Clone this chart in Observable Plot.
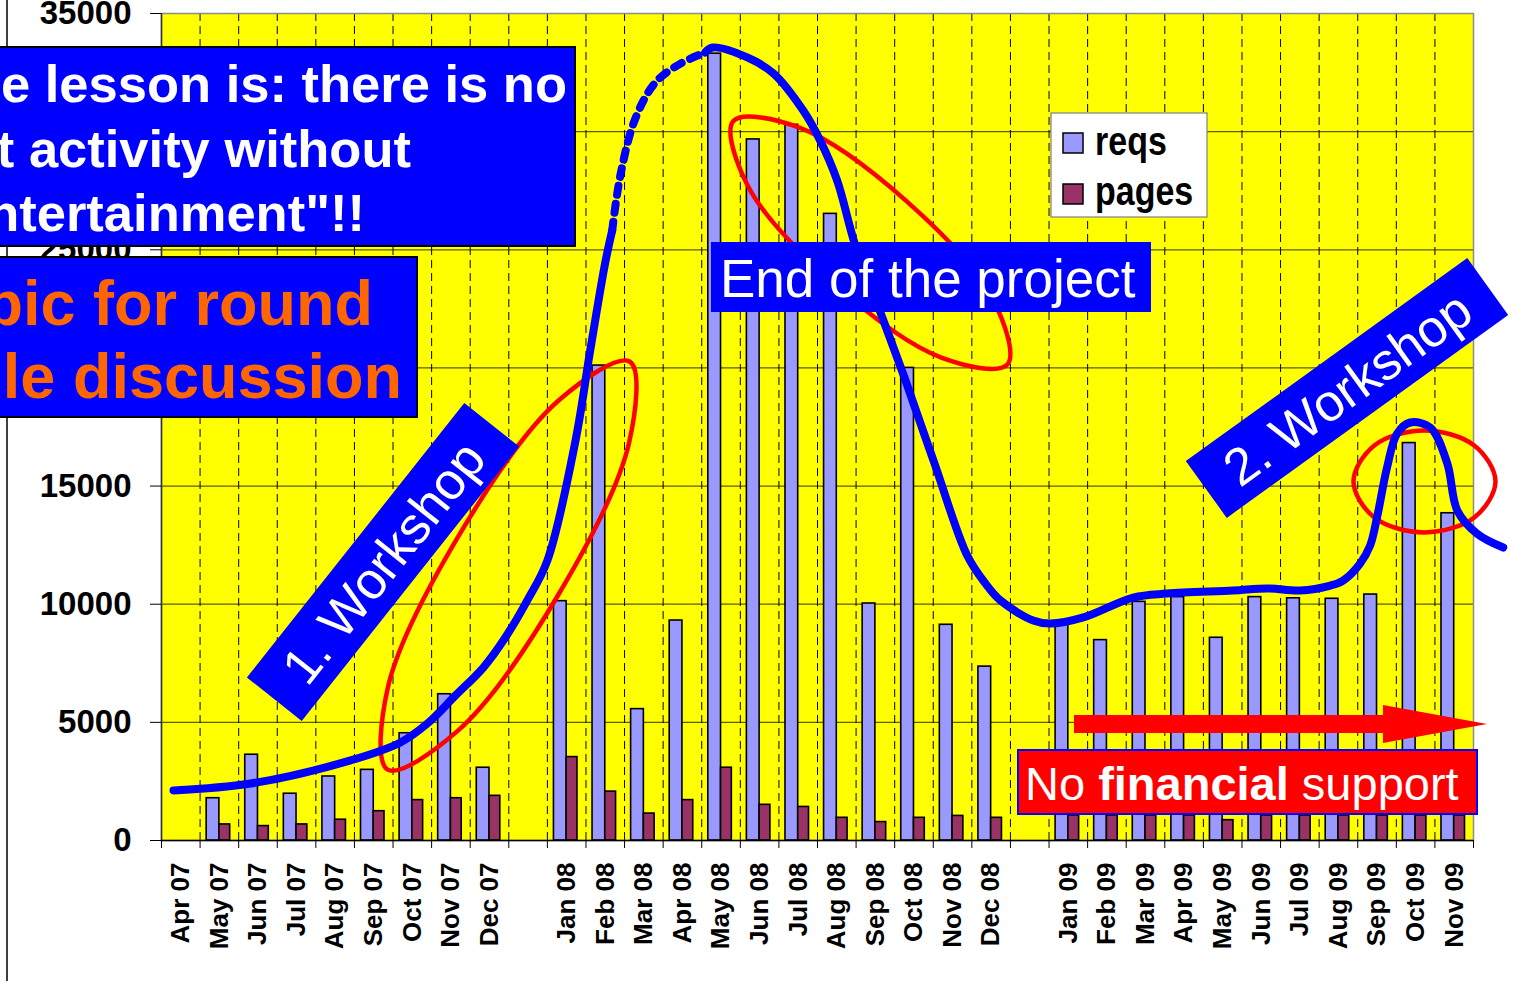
<!DOCTYPE html>
<html><head><meta charset="utf-8">
<script src="https://cdn.jsdelivr.net/npm/d3@7"></script>
<script src="https://cdn.jsdelivr.net/npm/@observablehq/plot@0.6"></script>
<style>
html,body{margin:0;padding:0;background:#fff;}
#chart{position:relative;width:1514px;height:981px;overflow:hidden;}
</style></head><body><div id="chart"></div>
<script>
// ---- data ----
const months = ["Apr 07","May 07","Jun 07","Jul 07","Aug 07","Sep 07","Oct 07","Nov 07","Dec 07","",
  "Jan 08","Feb 08","Mar 08","Apr 08","May 08","Jun 08","Jul 08","Aug 08","Sep 08","Oct 08","Nov 08","Dec 08","",
  "Jan 09","Feb 09","Mar 09","Apr 09","May 09","Jun 09","Jul 09","Aug 09","Sep 09","Oct 09","Nov 09"];
const reqs = [null,1790,3630,1980,2710,2990,4540,6190,3080,null,
  10130,20100,5560,9310,33300,29670,30290,26520,10030,20000,9130,7360,null,
  9130,8480,10100,10300,8580,10300,10250,10230,10410,16820,13850];
const pages = [null,680,610,680,880,1240,1710,1790,1890,null,
  3530,2070,1140,1710,3080,1510,1420,960,780,960,1040,960,null,
  1060,1060,1060,1060,860,1060,1060,1060,1060,1060,1060];
const yTicks = [0,5000,10000,15000,20000,25000,30000,35000];
const legendLabels = ["reqs","pages"];

// hand-drawn trend curve (slot position, value)
const trendSolidA = [[0.31,2120],[2.31,2410],[4.90,3390],[6.19,4150],[6.89,4950],[7.62,6140],[8.34,7320],
  [8.91,8590],[9.48,10160],[10.0,11850],[10.73,16930],[11.11,20740],[11.50,24460],[11.68,25820]];
const trendDotted = [[11.68,25820],[11.89,28140],[12.28,30560],[12.80,32080],[13.45,32880],[14.09,33350]];
const trendSolidB = [[14.09,33350],[14.28,33560],[15.18,33140],[15.86,32460],[16.63,30890],[17.07,29620],
  [17.51,27930],[17.98,25180],[18.63,22350],[19.28,19470],[20.05,15870],[20.88,12060],[21.35,10880],
  [21.74,10160],[22.59,9310],[23.03,9180],[23.89,9440],[25.18,10280],[26.06,10450],[27.77,10580],
  [28.65,10670],[29.51,10580],[30.29,10790],[30.62,11000],[31.06,11720],[31.32,12480],[31.50,13670],
  [31.76,15790],[32.02,17220],[32.36,17690],[32.88,17480],[33.32,15960],[33.58,13970],[34.09,12990],[34.77,12400]];
// hand-drawn red ellipses (outline points)
const ellipseWorkshop1 = [[12.13,20270],[12.12,16850],[10.28,10390],[7.69,4660],[5.86,3000],[5.86,6430],[7.70,12890],[10.29,18620]];
const ellipseProjectEnd = [[21.92,20140],[20.21,20440],[17.43,23570],[15.19,27720],[14.82,30450],[16.53,30170],[19.32,27040],[21.55,22900]];
const ellipseWorkshop2 = [[34.57,15190],[34.02,13670],[32.73,13040],[31.43,13670],[30.89,15190],[31.43,16720],[32.73,17350],[34.02,16720]];

// ---- chart ----
const font = "Liberation Sans, Arial, Helvetica, sans-serif";
const idx = d3.range(months.length);
const boundaries = d3.range(0, months.length + 1);
const centers = idx.filter(i => months[i] !== "").map(i => i + 0.5);
const pt = {x: d => d[0], y: d => d[1]};

const plot = Plot.plot({
  width: 1514, height: 981,
  marginLeft: 161, marginRight: 41, marginTop: 13, marginBottom: 141,
  style: {fontFamily: font, background: "white", color: "black"},
  x: {domain: [0, months.length]},
  y: {domain: [0, 35000]},
  marks: [
    Plot.frame({fill: "#FFFF00"}),
    Plot.ruleY(yTicks.slice(1, -1), {stroke: "#5c5c00", strokeWidth: 1.3}),
    Plot.ruleX(boundaries.slice(1, -1), {stroke: "#000", strokeWidth: 1, strokeDasharray: "8,5"}),
    Plot.frame({stroke: "#8c8c8c", strokeWidth: 1.5}),
    Plot.ruleX([0], {stroke: "#333", strokeWidth: 1.5}),
    Plot.rect(idx.filter(i => reqs[i] != null), {x1: i => i + 0.17, x2: i => i + 0.5, y1: 0, y2: i => reqs[i],
      fill: "#9999FF", stroke: "#000", strokeWidth: 1.6}),
    Plot.rect(idx.filter(i => pages[i] != null), {x1: i => i + 0.5, x2: i => i + 0.78, y1: 0, y2: i => pages[i],
      fill: "#993366", stroke: "#000", strokeWidth: 1.6}),
    Plot.ruleY([0], {stroke: "#000", strokeWidth: 1.5}),
    Plot.ruleX(boundaries, {y1: 0, y2: 0, insetBottom: -8, stroke: "#000", strokeWidth: 1}),
    Plot.axisY(yTicks, {tickSize: 11, tickPadding: 19, fontSize: 33, fontWeight: "bold", label: null,
      tickFormat: d => String(d)}),
    Plot.axisX(centers, {tickSize: 0, tickPadding: 22, tickRotate: -90, fontSize: 26, fontWeight: "bold",
      tickFormat: d => months[Math.floor(d)], label: null}),
    Plot.line(ellipseWorkshop1, {...pt, curve: "catmull-rom-closed", stroke: "#FF0000", strokeWidth: 4.5}),
    Plot.line(ellipseProjectEnd, {...pt, curve: "catmull-rom-closed", stroke: "#FF0000", strokeWidth: 4.5}),
    Plot.line(ellipseWorkshop2, {...pt, curve: "catmull-rom-closed", stroke: "#FF0000", strokeWidth: 4.5}),
    Plot.line(trendSolidA, {...pt, curve: "catmull-rom", stroke: "#0000FF", strokeWidth: 8}),
    Plot.line(trendDotted, {...pt, curve: "catmull-rom", stroke: "#0000FF", strokeWidth: 8, strokeDasharray: "9,9"}),
    Plot.line(trendSolidB, {...pt, curve: "catmull-rom", stroke: "#0000FF", strokeWidth: 8})
  ]
});
document.getElementById("chart").appendChild(plot);

// ---- annotations on top ----
const svg = d3.select(plot);
const ann = svg.append("g").attr("font-family", font).attr("text-anchor", "start");

ann.append("line").attr("x1", 7).attr("x2", 7).attr("y1", 0).attr("y2", 981).attr("stroke", "#000").attr("stroke-width", 1.5);

// legend
const lg = ann.append("g");
lg.append("rect").attr("x", 1051).attr("y", 113).attr("width", 156).attr("height", 104)
  .attr("fill", "#fff").attr("stroke", "#808080").attr("stroke-width", 1.2);
[["#9999FF", 133, 155], ["#993366", 184, 205]].forEach(([c, ry, ty], k) => {
  lg.append("rect").attr("x", 1063).attr("y", ry).attr("width", 20).attr("height", 20)
    .attr("fill", c).attr("stroke", "#000").attr("stroke-width", 1.5);
  lg.append("text").attr("transform", `translate(1095,${ty}) scale(1,1.18)`).attr("text-anchor", "start")
    .attr("font-size", 34).attr("font-weight", "bold").attr("fill", "#000").text(legendLabels[k]);
});

// lesson box
ann.append("rect").attr("x", -3).attr("y", 47).attr("width", 578).attr("height", 199)
  .attr("fill", "#0000FF").attr("stroke", "#000").attr("stroke-width", 2);
[["e lesson is: there is no", 567, 102], ["t activity without", 411, 167], ["ntertainment\"!!", 365, 231]].forEach(([t, x, y]) => {
  ann.append("text").attr("x", x).attr("y", y).attr("text-anchor", "end").attr("font-size", 52.5)
    .attr("font-weight", "bold").attr("fill", "#fff").text(t);
});

// topic box
ann.append("rect").attr("x", -3).attr("y", 257).attr("width", 420).attr("height", 160)
  .attr("fill", "#0000FF").attr("stroke", "#000").attr("stroke-width", 2);
[["pic for round", 373, 325], ["le discussion", 402, 398]].forEach(([t, x, y]) => {
  ann.append("text").attr("x", x).attr("y", y).attr("text-anchor", "end").attr("font-size", 63)
    .attr("font-weight", "bold").attr("fill", "#FF6600").text(t);
});

// rotated workshop labels
function tilted(cx, cy, w, h, ang, label) {
  const g = ann.append("g").attr("transform", `translate(${cx},${cy}) rotate(${ang})`);
  g.append("rect").attr("x", -w / 2).attr("y", -h / 2).attr("width", w).attr("height", h).attr("fill", "#0000FF");
  g.append("text").attr("x", 0).attr("y", 0).attr("dy", "0.36em").attr("text-anchor", "middle")
    .attr("font-size", 52).attr("fill", "#fff").text(label);
}
tilted(383, 562, 350, 70, -51.6, "1. Workshop");
tilted(1347, 388, 347, 70, -35.8, "2. Workshop");

// end of project box
ann.append("rect").attr("x", 711).attr("y", 242).attr("width", 440).attr("height", 70).attr("fill", "#0000FF");
ann.append("text").attr("x", 720).attr("y", 297).attr("text-anchor", "start").attr("font-size", 53)
  .attr("fill", "#fff").text("End of the project");

// arrow
ann.append("polygon").attr("points", "1074,715 1383,715 1383,705 1487,724 1383,743 1383,733 1074,733").attr("fill", "#FF0000");

// no financial support
ann.append("rect").attr("x", 1018).attr("y", 750).attr("width", 459).attr("height", 64)
  .attr("fill", "#FF0000").attr("stroke", "#0000FF").attr("stroke-width", 2);
const nf = ann.append("text").attr("x", 1025).attr("y", 800).attr("text-anchor", "start").attr("font-size", 47).attr("fill", "#fff");
nf.append("tspan").text("No ");
nf.append("tspan").attr("font-weight", "bold").text("financial");
nf.append("tspan").text(" support");
</script></body></html>
